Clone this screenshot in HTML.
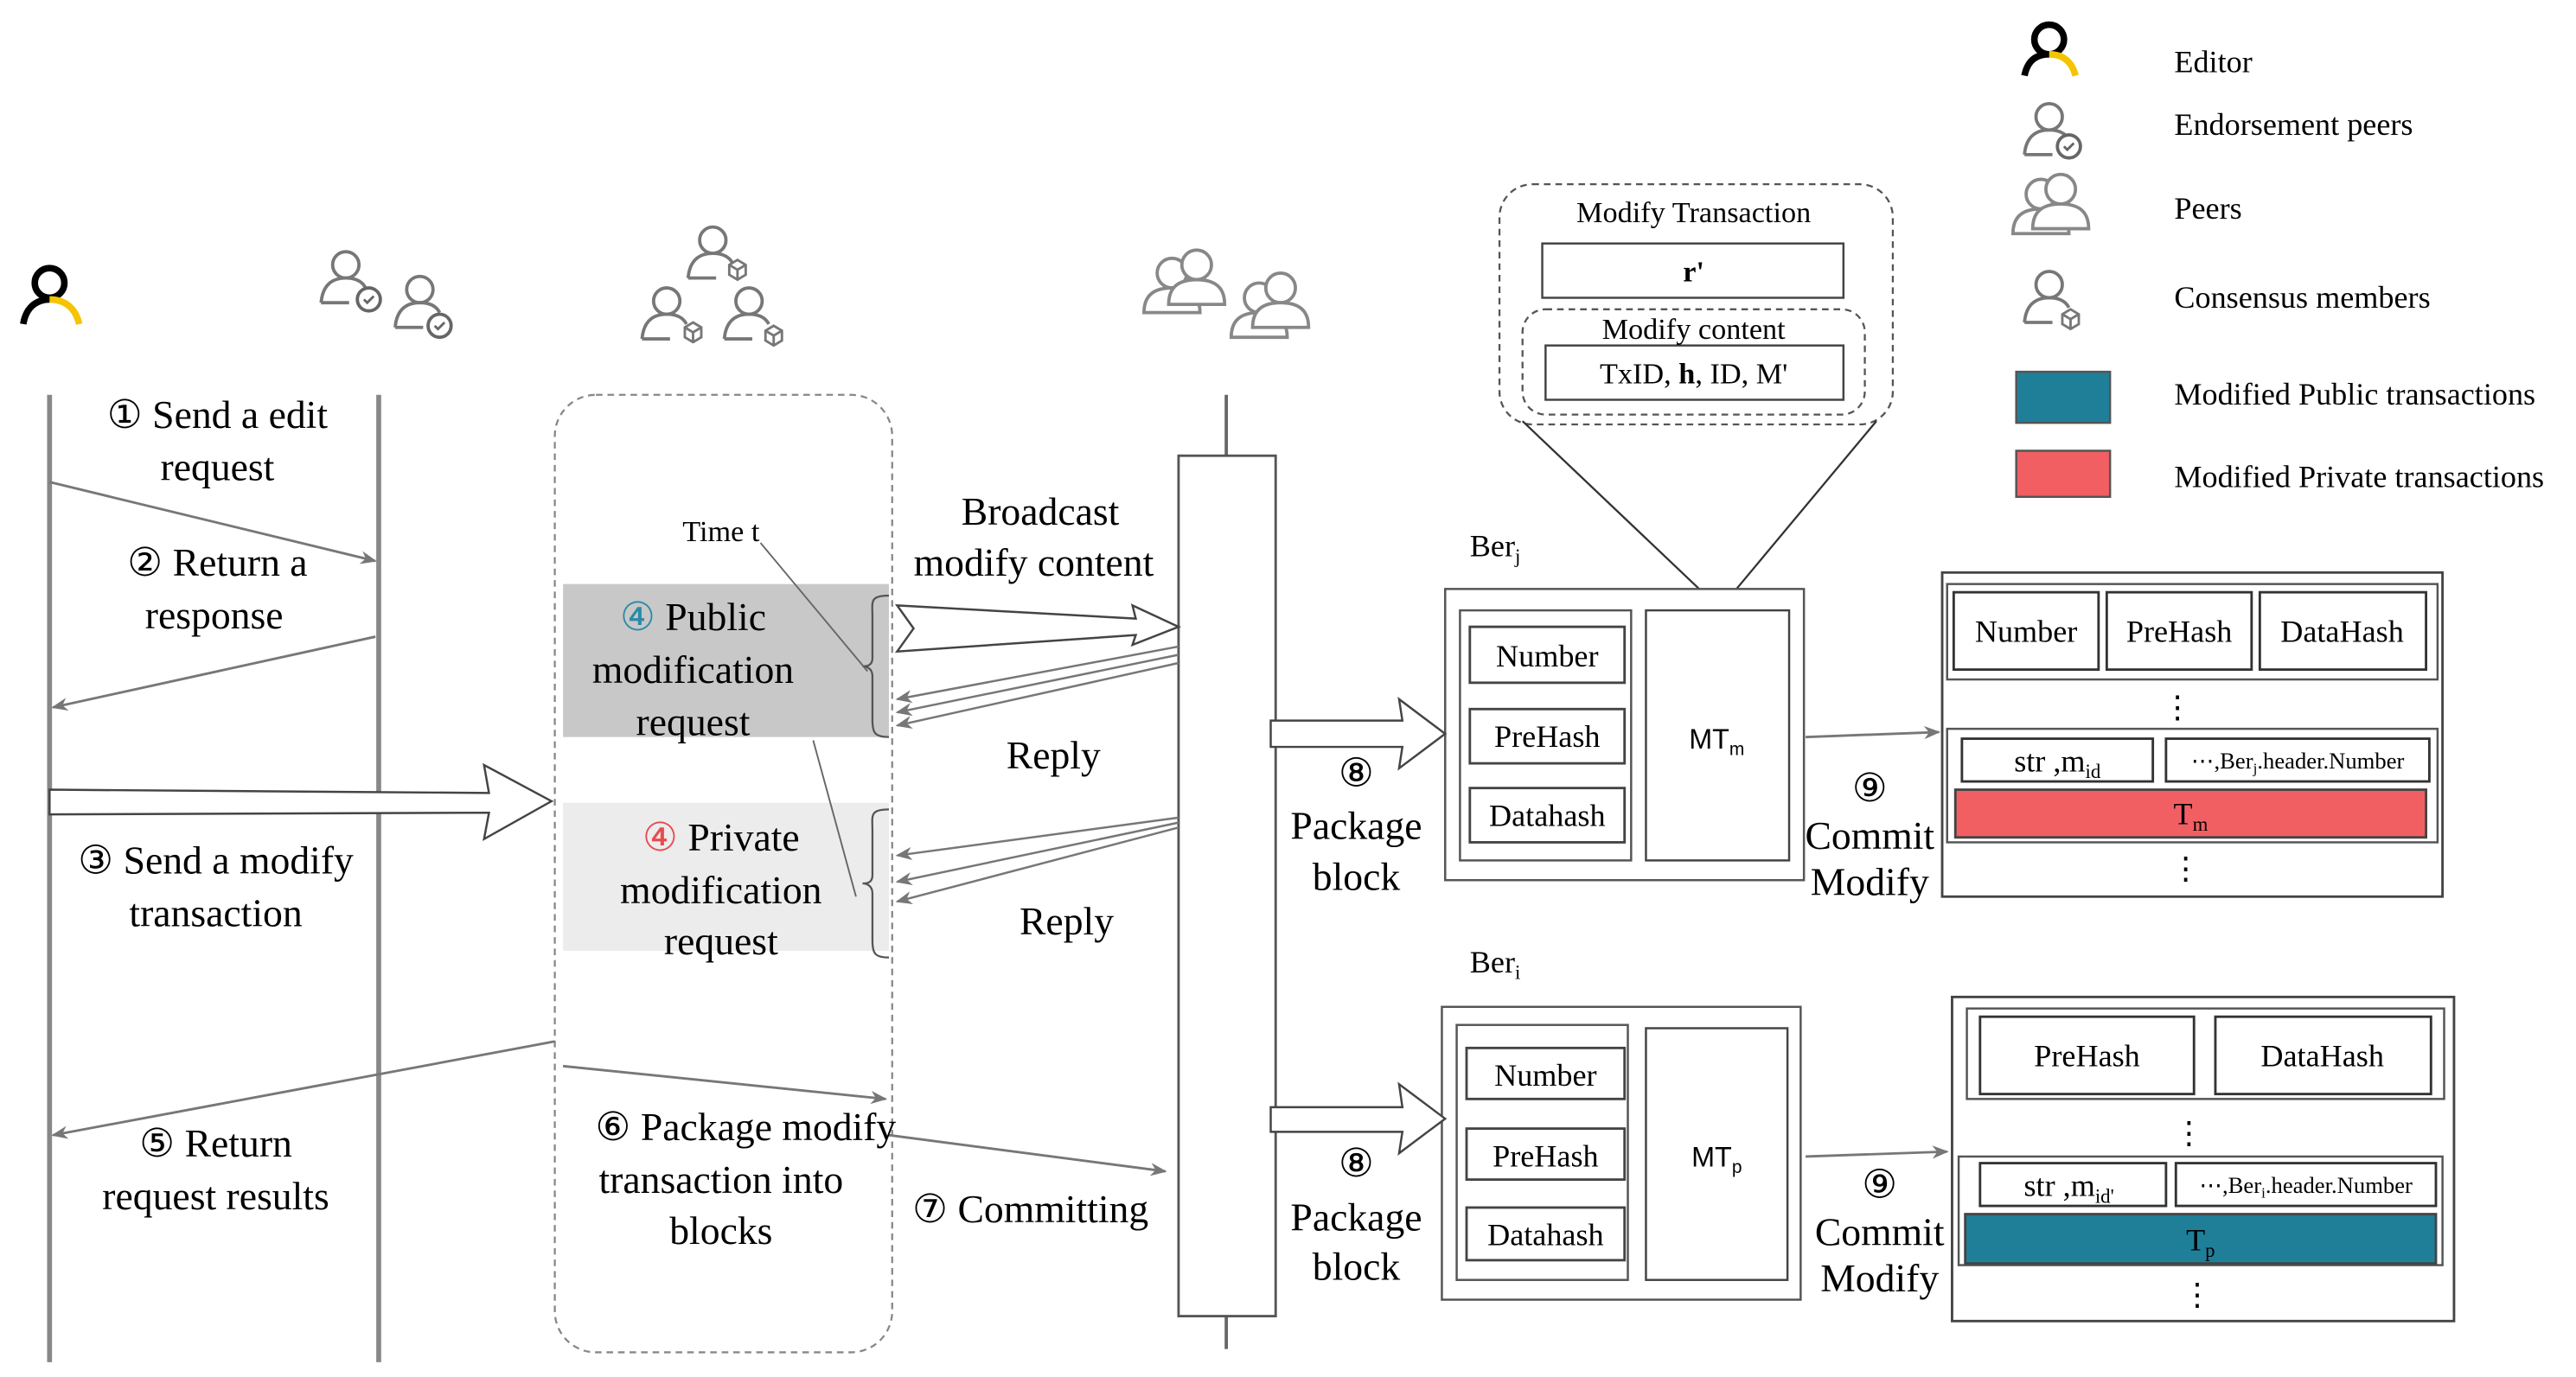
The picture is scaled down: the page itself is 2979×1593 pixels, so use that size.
<!DOCTYPE html>
<html><head><meta charset="utf-8"><style>html,body{margin:0;padding:0;background:#fff}svg{display:block}</style></head>
<body>
<svg width="2979" height="1593" viewBox="0 0 1565 837" xmlns="http://www.w3.org/2000/svg" font-family="Liberation Serif, serif" fill="none">
<defs>
<marker id="ah" markerWidth="10" markerHeight="8" refX="9" refY="4" orient="auto" markerUnits="userSpaceOnUse"><path d="M0,0 L10,4 L0,8 L3,4Z" fill="#777"/></marker>
<g id="usr"><circle cx="0" cy="-9" r="8" stroke="#777" stroke-width="2"/><path d="M-15,14 C-14,2 -7,-1 0,-1 C6,-1 10,1 12,5" stroke="#777" stroke-width="2"/><path d="M-15,14 L2,14" stroke="#777" stroke-width="2"/></g>
<g id="chk"><circle cx="0" cy="0" r="7" fill="#fff" stroke="#666" stroke-width="2"/><path d="M-3,0 L-1,2 L3,-2" stroke="#666" stroke-width="1.5"/></g>
<g id="cube"><path d="M0,-6 L5,-3 L5,3 L0,6 L-5,3 L-5,-3Z M-5,-3 L0,0 L5,-3 M0,0 L0,6" stroke="#777" stroke-width="1.5" fill="#fff"/></g>
<g id="peer"><circle cx="0" cy="-9" r="9" stroke="#888" stroke-width="2" fill="#fff"/><path d="M-17,15 C-17,3 -9,0 0,0 C9,0 17,3 17,15Z" stroke="#888" stroke-width="2" fill="#fff"/></g>
</defs>

<!-- Editor icon -->
<circle cx="30" cy="172" r="9" stroke="#000" stroke-width="4"/>
<path d="M14,197 C16,185 24,182 30,182" stroke="#000" stroke-width="4"/>
<path d="M30,182 C40,182 46,188 48,197" stroke="#f5c400" stroke-width="4"/>
<!-- Endorsement icons -->
<use href="#usr" x="210" y="170"/><use href="#chk" x="224" y="182"/>
<use href="#usr" x="255" y="185"/><use href="#chk" x="267" y="198"/>
<!-- Consensus icons -->
<use href="#usr" x="433" y="155"/><use href="#cube" x="448" y="164"/>
<use href="#usr" x="405" y="192"/><use href="#cube" x="421" y="202"/>
<use href="#usr" x="455" y="192"/><use href="#cube" x="470" y="204"/>
<!-- Peers icon -->
<use href="#peer" x="712" y="175"/><use href="#peer" x="727" y="170"/>
<use href="#peer" x="765" y="190"/><use href="#peer" x="778" y="184"/>

<!-- lifelines -->
<line x1="30" y1="240" x2="30" y2="828" stroke="#888" stroke-width="3"/>
<line x1="230" y1="240" x2="230" y2="828" stroke="#888" stroke-width="3"/>
<line x1="745" y1="240" x2="745" y2="820" stroke="#666" stroke-width="2"/>

<!-- dashed container -->
<rect x="337" y="240" width="205" height="582" rx="25" stroke="#888" stroke-width="1.2" stroke-dasharray="4,3"/>
<rect x="342" y="355" width="198" height="93" fill="#c8c8c8"/>
<rect x="342" y="488" width="198" height="90" fill="#ececec"/>

<!-- braces -->
<path d="M540,362 C528,362 530,366 530,375 L530,400 C530,405 526,405 524,405 C526,405 530,406 530,411 L530,438 C530,446 532,448 540,448" stroke="#555" stroke-width="1.2"/>
<path d="M540,492 C528,492 530,496 530,505 L530,532 C530,537 526,537 524,537 C526,537 530,538 530,543 L530,572 C530,580 532,582 540,582" stroke="#555" stroke-width="1.2"/>

<!-- activation box -->
<rect x="716" y="277" width="59" height="523" fill="#fff" stroke="#555" stroke-width="1.5"/>

<!-- arrows left -->
<line x1="30" y1="293" x2="228" y2="341" stroke="#777" stroke-width="1.5" marker-end="url(#ah)"/>
<line x1="228" y1="387" x2="32" y2="430" stroke="#777" stroke-width="1.5" marker-end="url(#ah)"/>
<path d="M30,480 L297,482 L294,465 L335,487 L294,510 L297,494 L30,495Z" fill="#fff" stroke="#444" stroke-width="1.3"/>
<line x1="337" y1="633" x2="32" y2="690" stroke="#777" stroke-width="1.5" marker-end="url(#ah)"/>
<line x1="342" y1="648" x2="538" y2="668" stroke="#777" stroke-width="1.5" marker-end="url(#ah)"/>
<line x1="540" y1="690" x2="708" y2="712" stroke="#777" stroke-width="1.5" marker-end="url(#ah)"/>

<!-- broadcast arrow -->
<path d="M545,368 L690,376 L688,368 L716,381 L688,392 L690,386 L545,396 L555,382Z" fill="#fff" stroke="#444" stroke-width="1.3"/>
<!-- replies -->
<line x1="716" y1="393" x2="545" y2="425" stroke="#777" stroke-width="1.3" marker-end="url(#ah)"/>
<line x1="716" y1="398" x2="545" y2="433" stroke="#777" stroke-width="1.3" marker-end="url(#ah)"/>
<line x1="716" y1="403" x2="545" y2="441" stroke="#777" stroke-width="1.3" marker-end="url(#ah)"/>
<line x1="716" y1="497" x2="545" y2="520" stroke="#777" stroke-width="1.3" marker-end="url(#ah)"/>
<line x1="716" y1="500" x2="545" y2="536" stroke="#777" stroke-width="1.3" marker-end="url(#ah)"/>
<line x1="716" y1="503" x2="545" y2="548" stroke="#777" stroke-width="1.3" marker-end="url(#ah)"/>

<!-- Time t lines -->
<line x1="462" y1="330" x2="527" y2="408" stroke="#666" stroke-width="1"/>
<line x1="494" y1="450" x2="520" y2="545" stroke="#666" stroke-width="1"/>

<!-- Modify transaction callout -->
<rect x="911" y="112" width="239" height="146" rx="20" stroke="#555" stroke-width="1.2" stroke-dasharray="4,3" fill="#fff"/>
<line x1="925" y1="256" x2="1045" y2="370" stroke="#333" stroke-width="1.2"/>
<line x1="1140" y1="256" x2="1045" y2="370" stroke="#333" stroke-width="1.2"/>
<rect x="937" y="148" width="183" height="33" stroke="#444" stroke-width="1.3" fill="#fff"/>
<rect x="925" y="188" width="208" height="64" rx="14" stroke="#555" stroke-width="1.2" stroke-dasharray="4,3"/>
<rect x="939" y="210" width="181" height="33" stroke="#444" stroke-width="1.3" fill="#fff"/>

<!-- Berj block -->
<rect x="878" y="358" width="218" height="177" stroke="#555" stroke-width="1.3" fill="#fff"/>
<rect x="887" y="371" width="104" height="152" stroke="#555" stroke-width="1.3"/>
<rect x="893" y="381" width="94" height="34" stroke="#444" stroke-width="1.5"/>
<rect x="893" y="431" width="94" height="33" stroke="#444" stroke-width="1.5"/>
<rect x="893" y="479" width="94" height="33" stroke="#444" stroke-width="1.5"/>
<rect x="1000" y="371" width="87" height="152" stroke="#444" stroke-width="1.3"/>
<path d="M772,438 L852,438 L850,425 L878,446 L850,467 L852,454 L772,454Z" fill="#fff" stroke="#444" stroke-width="1.3"/>
<line x1="1097" y1="448" x2="1178" y2="445" stroke="#777" stroke-width="1.5" marker-end="url(#ah)"/>

<!-- Beri block -->
<rect x="876" y="612" width="218" height="178" stroke="#555" stroke-width="1.3" fill="#fff"/>
<rect x="885" y="623" width="104" height="155" stroke="#555" stroke-width="1.3"/>
<rect x="891" y="637" width="96" height="31" stroke="#444" stroke-width="1.5"/>
<rect x="891" y="686" width="96" height="31" stroke="#444" stroke-width="1.5"/>
<rect x="891" y="734" width="96" height="32" stroke="#444" stroke-width="1.5"/>
<rect x="1000" y="625" width="86" height="153" stroke="#444" stroke-width="1.3"/>
<path d="M772,673 L852,673 L850,659 L878,680 L850,701 L852,688 L772,688Z" fill="#fff" stroke="#444" stroke-width="1.3"/>
<line x1="1097" y1="703" x2="1183" y2="700" stroke="#777" stroke-width="1.5" marker-end="url(#ah)"/>

<!-- right block top -->
<rect x="1180" y="348" width="304" height="197" stroke="#444" stroke-width="1.5" fill="#fff"/>
<rect x="1183" y="355" width="298" height="58" stroke="#555" stroke-width="1.3"/>
<rect x="1187" y="360" width="88" height="47" stroke="#333" stroke-width="1.5"/>
<rect x="1280" y="360" width="88" height="47" stroke="#333" stroke-width="1.5"/>
<rect x="1373" y="360" width="101" height="47" stroke="#333" stroke-width="1.5"/>
<rect x="1183" y="443" width="298" height="69" stroke="#555" stroke-width="1.3"/>
<rect x="1192" y="449" width="116" height="26" stroke="#333" stroke-width="1.5"/>
<rect x="1316" y="449" width="160" height="26" stroke="#333" stroke-width="1.5"/>
<rect x="1188" y="480" width="286" height="29" fill="#f25f63" stroke="#444" stroke-width="1.5"/>

<!-- right block bottom -->
<rect x="1186" y="606" width="305" height="197" stroke="#444" stroke-width="1.5" fill="#fff"/>
<rect x="1195" y="613" width="290" height="55" stroke="#555" stroke-width="1.3"/>
<rect x="1203" y="618" width="130" height="47" stroke="#333" stroke-width="1.5"/>
<rect x="1346" y="618" width="131" height="47" stroke="#333" stroke-width="1.5"/>
<rect x="1190" y="703" width="294" height="66" stroke="#555" stroke-width="1.3"/>
<rect x="1203" y="707" width="113" height="26" stroke="#333" stroke-width="1.5"/>
<rect x="1322" y="707" width="158" height="26" stroke="#333" stroke-width="1.5"/>
<rect x="1194" y="738" width="286" height="30" fill="#1f7f99" stroke="#444" stroke-width="1.5"/>

<!-- labels -->
<g fill="#000" font-size="24" text-anchor="middle">
<text x="132" y="260">① Send a edit</text><text x="132" y="292">request</text>
<text x="132" y="350">② Return a</text><text x="130" y="382">response</text>
<text x="131" y="531">③ Send a modify</text><text x="131" y="563">transaction</text>
<text x="131" y="703">⑤ Return</text><text x="131" y="735">request results</text>
<text x="421" y="383"><tspan fill="#2a8aa8">④</tspan> Public</text>
<text x="421" y="415">modification</text><text x="421" y="447">request</text>
<text x="438" y="517"><tspan fill="#e84a4f">④</tspan> Private</text>
<text x="438" y="549">modification</text><text x="438" y="580">request</text>
<text x="453" y="693">⑥ Package modify</text><text x="438" y="725">transaction into</text><text x="438" y="756">blocks</text>
<text x="632" y="319">Broadcast</text><text x="628" y="350">modify content</text>
<text x="640" y="467">Reply</text><text x="648" y="568">Reply</text>
<text x="626" y="743">⑦ Committing</text>
<text x="824" y="478">⑧</text><text x="824" y="510">Package</text><text x="824" y="541">block</text>
<text x="824" y="715">⑧</text><text x="824" y="748">Package</text><text x="824" y="778">block</text>
<text x="1136" y="487">⑨</text><text x="1136" y="516">Commit</text><text x="1136" y="544">Modify</text>
<text x="1142" y="728">⑨</text><text x="1142" y="757">Commit</text><text x="1142" y="785">Modify</text>
</g>
<text x="438" y="329" font-size="18" fill="#000" text-anchor="middle">Time t</text>
<g fill="#000" font-size="18" text-anchor="middle">
<text x="1029" y="135">Modify Transaction</text>
<text x="1029" y="171" font-weight="bold">r'</text>
<text x="1029" y="206">Modify content</text>
<text x="1029" y="233">TxID, <tspan font-weight="bold">h</tspan>, ID, M'</text>
</g>
<text x="893" y="338" font-size="19" fill="#000">Ber<tspan font-size="12" dy="4">j</tspan></text>
<text x="893" y="591" font-size="19" fill="#000">Ber<tspan font-size="12" dy="4">i</tspan></text>
<g fill="#000" font-size="19" text-anchor="middle">
<text x="940" y="405">Number</text><text x="940" y="454">PreHash</text><text x="940" y="502">Datahash</text>
<text x="939" y="660">Number</text><text x="939" y="709">PreHash</text><text x="939" y="757">Datahash</text>
</g>
<text x="1043" y="455" font-family="Liberation Sans, sans-serif" font-size="17" fill="#000" text-anchor="middle">MT<tspan font-size="11" dy="4">m</tspan></text>
<text x="1043" y="709" font-family="Liberation Sans, sans-serif" font-size="17" fill="#000" text-anchor="middle">MT<tspan font-size="11" dy="4">p</tspan></text>
<g fill="#000" font-size="19" text-anchor="middle">
<text x="1231" y="390">Number</text><text x="1324" y="390">PreHash</text><text x="1423" y="390">DataHash</text>
<text x="1323" y="436">⋮</text><text x="1328" y="534">⋮</text>
<text x="1250" y="469">str ,m<tspan font-size="12" dy="4">id</tspan></text>
<text x="1396" y="467" font-size="14">⋯,Ber<tspan font-size="9" dy="3">j</tspan><tspan dy="-3">.header.Number</tspan></text>
<text x="1331" y="501">T<tspan font-size="12" dy="4">m</tspan></text>
<text x="1268" y="648">PreHash</text><text x="1411" y="648">DataHash</text>
<text x="1330" y="695">⋮</text><text x="1335" y="793">⋮</text>
<text x="1257" y="727">str ,m<tspan font-size="12" dy="4">id'</tspan></text>
<text x="1401" y="725" font-size="14">⋯,Ber<tspan font-size="9" dy="3">i</tspan><tspan dy="-3">.header.Number</tspan></text>
<text x="1337" y="760">T<tspan font-size="12" dy="4">p</tspan></text>
</g>

<!-- legend -->
<circle cx="1245" cy="24" r="9" stroke="#000" stroke-width="4"/>
<path d="M1230,46 C1232,36 1238,33 1245,33" stroke="#000" stroke-width="4"/>
<path d="M1245,33 C1254,33 1259,38 1261,46" stroke="#f5c400" stroke-width="4"/>
<use href="#usr" x="1245" y="80"/><use href="#chk" x="1257" y="89"/>
<use href="#peer" x="1240" y="127"/><use href="#peer" x="1252" y="124"/>
<use href="#usr" x="1245" y="182"/><use href="#cube" x="1258" y="194"/>
<rect x="1225" y="226" width="57" height="31" fill="#1f7f99" stroke="#555" stroke-width="1.3"/>
<rect x="1225" y="274" width="57" height="28" fill="#f25f63" stroke="#555" stroke-width="1.3"/>
<g fill="#000" font-size="19">
<text x="1321" y="44">Editor</text>
<text x="1321" y="82">Endorsement peers</text>
<text x="1321" y="133">Peers</text>
<text x="1321" y="187">Consensus members</text>
<text x="1321" y="246">Modified Public transactions</text>
<text x="1321" y="296">Modified Private transactions</text>
</g>
</svg>
</body></html>
